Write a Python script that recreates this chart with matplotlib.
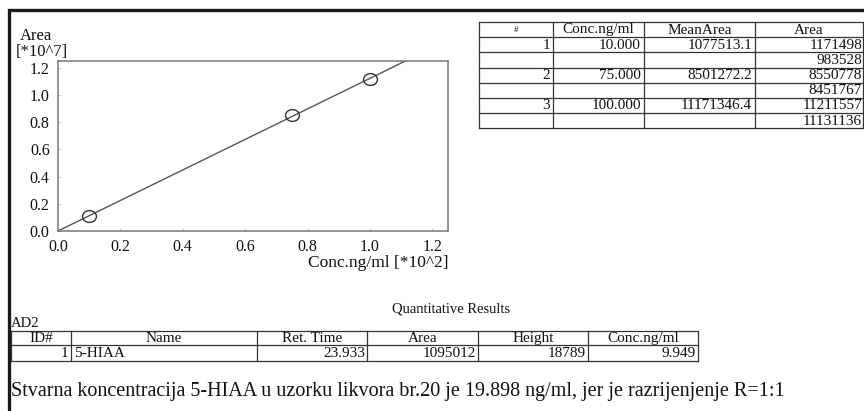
import numpy as np
import matplotlib
matplotlib.use("Agg")
import matplotlib.pyplot as plt
from matplotlib.path import Path
from matplotlib.transforms import Affine2D

plt.rcParams['font.family'] = ['Liberation Serif', 'DejaVu Serif']
plt.rcParams['text.color'] = '#111111'

# calibration data (conc in ng/ml, area)
levels = ["1", "2", "3"]
conc = [10.000, 75.000, 100.000]
mean_area = [1077513.1, 8501272.2, 11171346.4]
areas = [[1171498, 983528], [8550778, 8451767], [11211557, 11131136]]

# quantitative results
res_id = [1]
res_name = ["5-HIAA"]
res_rt = [23.933]
res_area = [1095012]
res_height = [18789]
res_conc = [9.949]

x_ticks = [0.0, 0.2, 0.4, 0.6, 0.8, 1.0, 1.2]
y_ticks = [0.0, 0.2, 0.4, 0.6, 0.8, 1.0, 1.2]

W, H = 864, 411
fig = plt.figure(figsize=(W / 100, H / 100), dpi=100)

# page layer in pixel coordinates
bg = fig.add_axes([0, 0, 1, 1])
bg.set_xlim(0, W)
bg.set_ylim(H, 0)
bg.axis("off")

# outer border (runs off the right and bottom)
bg.plot([9, 9, W + 5], [H + 5, 10, 10], color="#1a1a1a", lw=2.4, solid_joinstyle="miter")

# calibration curve
ax = fig.add_axes([58 / W, 1 - 231 / H, 390 / W, 170 / H])
x = np.array(conc) / 100.0
y = np.array(mean_area) / 1e7
slope = np.sum(x * y) / np.sum(x * x)
xl = np.array([0, 1.25])
ax.plot(xl, slope * xl, color="#555555", lw=1.0)
ell = Path.unit_circle().transformed(Affine2D().scale(1.0, 0.85))
ax.plot(x, y, linestyle="none", marker=ell, markersize=10, markerfacecolor="none",
        markeredgecolor="#333333", markeredgewidth=1.0)
ax.set_xlim(0, 1.25)
ax.set_ylim(0, 1.25)
ax.set_xticks(x_ticks)
ax.set_yticks(y_ticks)
ax.set_xticklabels(["%.1f" % v for v in x_ticks])
ax.set_yticklabels(["%.1f" % v for v in y_ticks])
ax.tick_params(axis="both", direction="in", length=2, width=0.6, color="#bbbbbb",
               labelsize=11.5, labelcolor="#111111")
ax.tick_params(axis="x", pad=6)
ax.tick_params(axis="y", pad=6)
for s in ax.spines.values():
    s.set_color("#777777")
    s.set_linewidth(1.1)

bg.text(20, 36, "Area", fontsize=12, va="center", ha="left")
bg.text(16, 52, "[*10^7]", fontsize=12, va="center", ha="left")
bg.text(448, 263, "Conc.ng/ml [*10^2]", fontsize=12.5, va="center", ha="right")


def grid(xs, ys):
    for yy in ys:
        bg.plot([xs[0], xs[-1]], [yy, yy], color="#333333", lw=0.9)
    for xx in xs:
        bg.plot([xx, xx], [ys[0], ys[-1]], color="#333333", lw=0.9)


# calibration table (top right)
cx = [479, 553, 644, 755, 863]
cy = [21.7, 37.3, 52.5, 67.7, 82.7, 97.7, 112.7, 128.3]
grid(cx, cy)
heads = ["#", "Conc.ng/ml", "MeanArea", "Area"]
for i, h in enumerate(heads):
    bg.text((cx[i] + cx[i + 1]) / 2, (cy[0] + cy[1]) / 2 + 0.5, h,
            fontsize=6.5 if h == "#" else 11, ha="center", va="center")
for k in range(len(levels)):
    r1 = (cy[1 + 2 * k] + cy[2 + 2 * k]) / 2 + 0.5
    r2 = (cy[2 + 2 * k] + cy[3 + 2 * k]) / 2 + 0.5
    bg.text(cx[1] - 3, r1, levels[k], fontsize=11, ha="right", va="center")
    bg.text(cx[2] - 3, r1, "%.3f" % conc[k], fontsize=11, ha="right", va="center")
    bg.text(cx[3] - 3, r1, "%.1f" % mean_area[k], fontsize=11, ha="right", va="center")
    bg.text(cx[4] - 1, r1, str(areas[k][0]), fontsize=11, ha="right", va="center")
    bg.text(cx[4] - 1, r2, str(areas[k][1]), fontsize=11, ha="right", va="center")

# quantitative results
bg.text(451, 309, "Quantitative Results", fontsize=10.5, ha="center", va="center")
bg.text(11, 323, "AD2", fontsize=10.5, ha="left", va="center")
qx = [11, 71, 257, 367, 478, 588, 698]
qy = [331, 345, 361]
grid(qx, qy)
qheads = ["ID#", "Name", "Ret. Time", "Area", "Height", "Conc.ng/ml"]
for i, h in enumerate(qheads):
    bg.text((qx[i] + qx[i + 1]) / 2, (qy[0] + qy[1]) / 2, h, fontsize=11,
            ha="center", va="center")
for k in range(len(res_id)):
    ry = (qy[1] + qy[2]) / 2 + 0.5
    bg.text(qx[1] - 3, ry, str(res_id[k]), fontsize=11, ha="right", va="center")
    bg.text(qx[1] + 3, ry, res_name[k], fontsize=11, ha="left", va="center")
    bg.text(qx[3] - 2, ry, "%.3f" % res_rt[k], fontsize=11, ha="right", va="center")
    bg.text(qx[4] - 2, ry, str(res_area[k]), fontsize=11, ha="right", va="center")
    bg.text(qx[5] - 2, ry, str(res_height[k]), fontsize=11, ha="right", va="center")
    bg.text(qx[6] - 2, ry, "%.3f" % res_conc[k], fontsize=11, ha="right", va="center")

bg.text(11, 391, "Stvarna koncentracija 5-HIAA u uzorku likvora br.20 je 19.898 ng/ml, "
        "jer je razrijenjenje R=1:1", fontsize=14.5, ha="left", va="center")

fig.savefig("out.png", dpi=100)
